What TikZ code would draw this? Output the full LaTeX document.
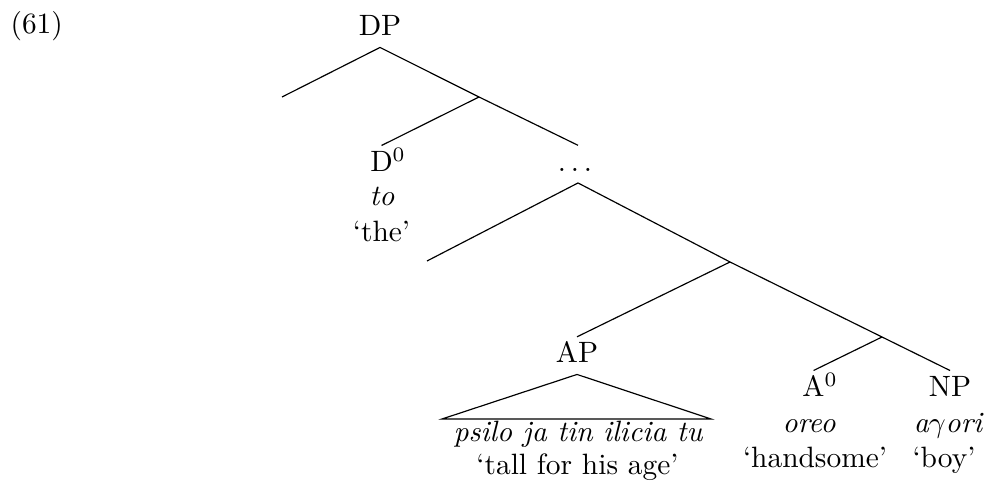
\documentclass[tikz,border=0pt]{standalone}
\begin{document}
\begin{tikzpicture}[x=0.34pt,y=-0.34pt,
  cat/.style={inner sep=0pt,text height=8.7pt,text depth=3.7pt,anchor=base},
  mot/.style={inner sep=0pt,anchor=base,font=\itshape},
  glose/.style={inner sep=0pt,anchor=base}]
  % Cadre
  \useasboundingbox (0,0) rectangle (986,491);
  % Numero de l'exemple
  \node[inner sep=0pt,anchor=base west] (num) at (10,33.5) {(61)};

  % Categories
  \node[cat] (dp) at (380,36) {DP};
  \node[cat] (dots) at (575,171.5) {$\ldots$};
  \node[cat] (d0) at (381.5,171.7) {D\rlap{$^0$}};
  \node[cat] (ap) at (577,363) {AP};
  \node[cat] (a0) at (813.5,396.7) {A\rlap{$^0$}};
  \node[cat] (np) at (950,396.7) {NP};

  % Mots et gloses
  \node[mot] (to) at (382,206) {to};
  \node[glose] (the) at (381.5,241.7) {`the'};
  \node[mot] (psilo) at (578,441.7) {psilo ja tin ilicia tu};
  \node[glose] (tall) at (577.5,474.3) {`tall for his age'};
  \node[mot] (oreo) at (809,432.7) {oreo};
  \node[glose] (hand) at (815,468) {`handsome'};
  \node[mot] (ayori) at (948,432.7) {a$\gamma$ori};
  \node[glose] (boy) at (944,468) {`boy'};

  % Points de branchement
  \coordinate (e1) at (282,97);
  \coordinate (b1) at (479,97);
  \coordinate (e2) at (427,261);
  \coordinate (b2) at (730,262);
  \coordinate (b3) at (882,337);
  \coordinate (tl) at (442,419);
  \coordinate (tr) at (711,419);

  % Branches
  \draw (dp.south) -- (e1);
  \draw (dp.south) -- (b1) -- (dots.north-|578,0);
  \draw (b1) -- (d0.north);
  \draw (dots.south-|578,0) -- (e2);
  \draw (dots.south-|578,0) -- (b2) -- (b3) -- (np.north);
  \draw (b2) -- (ap.north);
  \draw (b3) -- (a0.north);

  % Triangle
  \draw (tl) -- (ap.south) -- (tr) -- cycle;
\end{tikzpicture}
\end{document}
